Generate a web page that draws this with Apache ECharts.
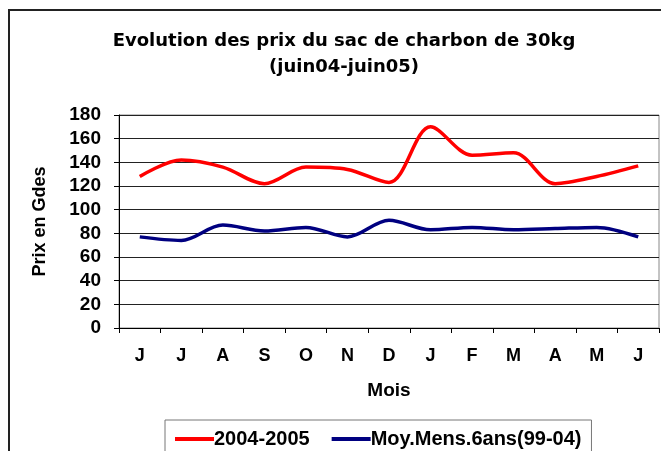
<!DOCTYPE html>
<html lang="fr">
<head>
<meta charset="UTF-8">
<title>Prix du sac de charbon</title>
<script src="https://cdn.jsdelivr.net/npm/echarts@6/dist/echarts.min.js"></script>
<style>
  html, body { margin: 0; padding: 0; background: #fff; }
  #main { width: 661px; height: 451px; }
</style>
</head>
<body>
<div id="main"></div>
<script>
// mois de juin 2004 a juin 2005
var mois = ['J', 'J', 'A', 'S', 'O', 'N', 'D', 'J', 'F', 'M', 'A', 'M', 'J'];
// prix 2004-2005 (Gdes)
var prix0405 = [128, 142, 136, 122, 136, 134, 123, 170, 146, 148, 122, 128, 137];
// moyenne mensuelle sur 6 ans (99-04)
var moyMens = [77, 74, 87, 82, 85, 77, 91, 83, 85, 83, 84, 85, 77];

var police = "'Liberation Sans', Arial, sans-serif";

var chart = echarts.init(document.getElementById('main'));

var option = {
    animation: false,
    textStyle: { fontFamily: police },
    graphic: [{
        type: 'rect',
        shape: { x: 9, y: 10, width: 720, height: 520 },
        style: { fill: 'none', stroke: '#222', lineWidth: 2 },
        silent: true
    }],
    title: {
        text: 'Evolution des prix du sac de charbon de 30kg\n(juin04-juin05)',
        left: 344,
        top: 28,
        textAlign: 'center',
        padding: 0,
        textStyle: {
            fontFamily: "'DejaVu Sans', sans-serif",
            fontSize: 18,
            fontWeight: 'bold',
            color: '#000',
            lineHeight: 26
        }
    },
    legend: {
        data: ['2004-2005', 'Moy.Mens.6ans(99-04)'],
        left: 165,
        top: 420,
        icon: 'rect',
        itemWidth: 39,
        itemHeight: 4,
        itemGap: 22,
        padding: [9, 10, 30, 10],
        borderColor: '#777',
        borderWidth: 1,
        textStyle: {
            fontFamily: police,
            fontSize: 20,
            fontWeight: 'bold',
            color: '#000',
            padding: [0, 0, 0, -5]
        }
    },
    grid: {
        left: 119,
        right: 2,
        top: 115,
        bottom: 123,
        show: true,
        borderColor: '#888',
        borderWidth: 1
    },
    xAxis: {
        type: 'category',
        data: mois,
        boundaryGap: true,
        name: 'Mois',
        nameLocation: 'middle',
        nameGap: 53,
        nameTextStyle: { fontSize: 19, fontWeight: 'bold', color: '#000' },
        axisLine: { lineStyle: { color: '#000', width: 1 } },
        axisTick: { show: true, length: 5, lineStyle: { color: '#000' } },
        axisLabel: { fontSize: 18, fontWeight: 'bold', color: '#000', margin: 19 },
        splitLine: { show: false }
    },
    yAxis: {
        type: 'value',
        min: 0,
        max: 180,
        interval: 20,
        name: 'Prix en Gdes',
        nameLocation: 'middle',
        nameGap: 70,
        nameTextStyle: { fontSize: 18, fontWeight: 'bold', color: '#000' },
        axisLine: { show: true, lineStyle: { color: '#000', width: 1 } },
        axisTick: { show: true, length: 5, lineStyle: { color: '#000' } },
        axisLabel: { fontSize: 19, fontWeight: 'bold', color: '#000', margin: 18 },
        splitLine: { show: true, lineStyle: { color: '#222', width: 1 } }
    },
    series: [
        {
            name: '2004-2005',
            type: 'line',
            data: prix0405,
            smooth: 0.33,
            showSymbol: false,
            color: '#ff0000',
            lineStyle: { color: '#ff0000', width: 3.5 }
        },
        {
            name: 'Moy.Mens.6ans(99-04)',
            type: 'line',
            data: moyMens,
            smooth: 0.33,
            showSymbol: false,
            color: '#000080',
            lineStyle: { color: '#000080', width: 3.5 }
        }
    ]
};

chart.setOption(option);
</script>
</body>
</html>
